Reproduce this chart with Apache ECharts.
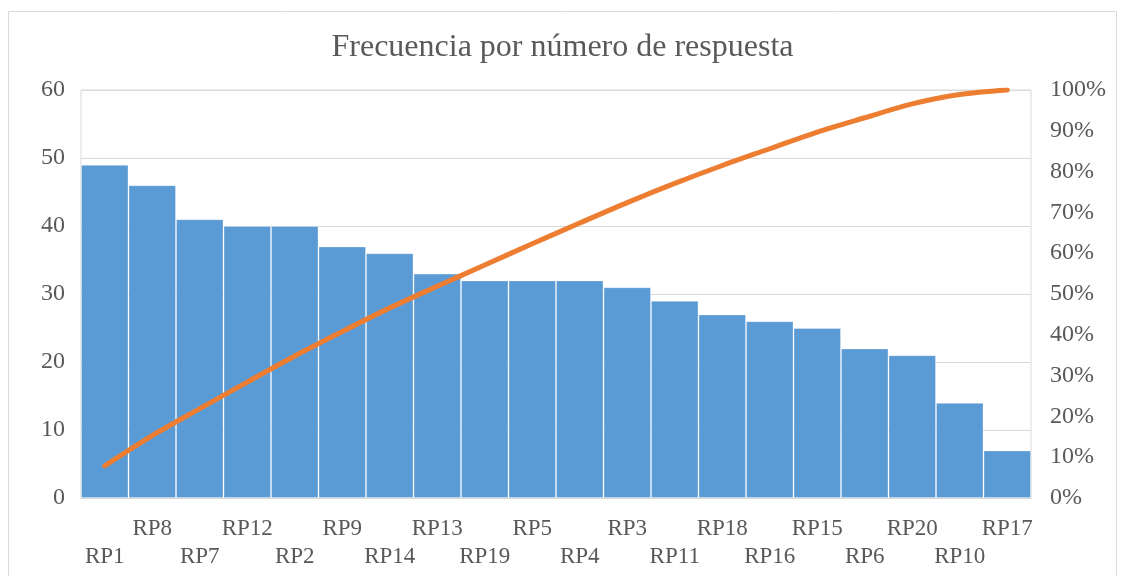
<!DOCTYPE html>
<html>
<head>
<meta charset="utf-8">
<script src="https://cdn.jsdelivr.net/npm/echarts@6/dist/echarts.min.js"></script>
<style>
  html, body { margin: 0; padding: 0; background: #fff; }
  #chart { width: 1125px; height: 576px; }
</style>
</head>
<body>
<div id="chart"></div>
<script>
const categories = ['RP1', 'RP8', 'RP7', 'RP12', 'RP2', 'RP9', 'RP14', 'RP13', 'RP19', 'RP5',
  'RP4', 'RP3', 'RP11', 'RP18', 'RP16', 'RP15', 'RP6', 'RP20', 'RP10', 'RP17']
const frecuencia = [49, 46, 41, 40, 40, 37, 36, 33, 32, 32, 32, 31, 29, 27, 26, 25, 22, 21, 14, 7]
const acumulado = [7.9, 15.3, 21.9, 28.4, 34.8, 40.8, 46.6, 51.9, 57.1, 62.3,
  67.4, 72.4, 77.1, 81.5, 85.6, 89.7, 93.2, 96.6, 98.9, 100]

const font = 'Liberation Serif'
const textColor = '#595959'
const lineGray = '#d9d9d9'

const chart = echarts.init(document.getElementById('chart'))
chart.setOption({
  animation: false,
  title: {
    text: 'Frecuencia por número de respuesta',
    left: 'center',
    top: 27,
    textStyle: { fontFamily: font, fontSize: 32, fontWeight: 'normal', color: textColor }
  },
  graphic: [{
    type: 'rect',
    shape: { x: 8.5, y: 11.5, width: 1108, height: 580 },
    style: { fill: 'none', stroke: lineGray, lineWidth: 1 }
  }],
  grid: {
    left: 81, right: 94, top: 90, bottom: 78,
    show: true, borderColor: lineGray, borderWidth: 1
  },
  xAxis: {
    type: 'category',
    data: categories,
    axisLine: { lineStyle: { color: lineGray } },
    axisTick: { show: false },
    axisLabel: {
      interval: 0,
      margin: 17,
      fontFamily: font,
      fontSize: 23,
      color: textColor,
      lineHeight: 28,
      formatter: (v, i) => (i % 2 === 0 ? '\n' + v : v)
    }
  },
  yAxis: [
    {
      type: 'value',
      min: 0, max: 60, interval: 10,
      axisLine: { show: false },
      axisTick: { show: false },
      splitLine: { lineStyle: { color: lineGray } },
      axisLabel: { margin: 16, fontFamily: font, fontSize: 24, color: textColor }
    },
    {
      type: 'value',
      min: 0, max: 100, interval: 10,
      axisLine: { show: false },
      axisTick: { show: false },
      splitLine: { show: false },
      axisLabel: { margin: 19, fontFamily: font, fontSize: 24, color: textColor, formatter: '{value}%' }
    }
  ],
  series: [
    {
      name: 'Frecuencia',
      type: 'bar',
      data: frecuencia,
      barCategoryGap: 0,
      itemStyle: { color: '#5b9bd5', borderColor: 'rgba(255,255,255,0.3)', borderWidth: 1 }
    },
    {
      name: 'Acumulado',
      type: 'line',
      yAxisIndex: 1,
      data: acumulado,
      smooth: 0.3,
      symbol: 'none',
      lineStyle: { color: '#ed7d31', width: 5, cap: 'round' }
    }
  ]
})
</script>
</body>
</html>
